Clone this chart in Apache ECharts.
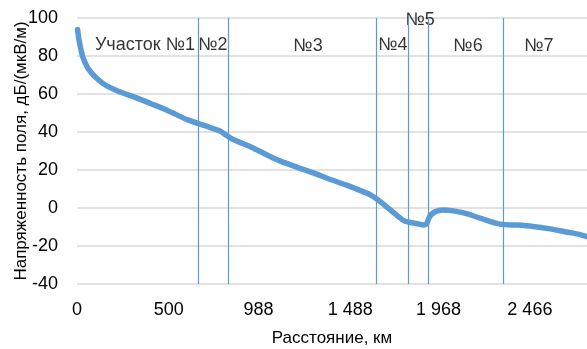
<!DOCTYPE html>
<html><head><meta charset="utf-8">
<script src="https://cdn.jsdelivr.net/npm/echarts@6/dist/echarts.min.js"></script>
<style>html,body{margin:0;padding:0;background:#fff}#c{width:587px;height:349px}</style>
</head><body><div id="c"></div>
<script>
const distanceKm = [3,10,20,30,44,60,80,110,150,200,250,305,400,490,600,700,779,810,851,950,1033,1105,1214,1286,1380,1468,1560,1600,1650,1700,1750,1786,1840,1890,1905,1920,1950,1990,2050,2122,2200,2303,2400,2483,2576,2657,2739,2777];
const fieldDb =    [94,89,84,80,76.5,73.5,71,68,65,62.5,60.5,58.6,55,51.5,46.5,43.2,40.5,38.5,36,32,28,24.8,20.9,18.5,15,12,8.5,6.8,3.5,-0.5,-4.5,-7,-8,-9,-8,-4.5,-2,-1,-1.5,-3,-5.5,-8.5,-9,-9.7,-11,-12.5,-14,-15];
const xTickValues = [0,500,988,1488,1968,2466];
const xTickLabels = ['0','500','988','1 488','1 968','2 466'];
const yTicks = [-40,-20,0,20,40,60,80,100];
const boundaryKm = [660,824,1632,1801,1913,2321];
const segNames = ['Участок №1','№2','№3','№4','№5','№6','№7'];
const segLabelKm = [370,740,1258,1720,1868,2129,2515];
const segLabelDb = [86,86,85,86,99,85,85];

const FONT = '"Liberation Sans",Arial,sans-serif';
const FS = 18;
const chart = echarts.init(document.getElementById('c'), null, {renderer:'canvas'});
chart.setOption({
  animation:false,
  grid:{left:77,right:0,top:18,bottom:65,containLabel:false,outerBoundsMode:'none'},
  xAxis:{
    type:'value',min:0,max:2777,
    name:'Расстояние, км',nameLocation:'middle',nameGap:46,nameMoveOverlap:false,
    nameTextStyle:{fontFamily:FONT,fontSize:17,color:'#000'},
    axisLine:{show:false},axisTick:{show:false},splitLine:{show:false},
    axisLabel:{customValues:xTickValues,fontFamily:FONT,fontSize:FS,color:'#000',margin:17,
      formatter:function(v){const i=xTickValues.indexOf(v);return i>=0?xTickLabels[i]:'';}}
  },
  yAxis:{
    type:'value',min:yTicks[0],max:yTicks[yTicks.length-1],interval:20,
    name:'Напряженность поля, дБ/(мкВ/м)',nameLocation:'middle',nameGap:47,nameMoveOverlap:false,
    nameTextStyle:{fontFamily:FONT,fontSize:17,color:'#000'},
    axisLine:{show:false},axisTick:{show:false},
    axisLabel:{fontFamily:FONT,fontSize:FS,color:'#000',margin:19},
    splitLine:{lineStyle:{color:'#d9d9d9',width:1.5}}
  },
  series:[
    {type:'line',data:distanceKm.map((d,i)=>[d,fieldDb[i]]),smooth:0.3,showSymbol:false,
     lineStyle:{color:'#5b9bd5',width:5.5,cap:'round',join:'round'},
     markLine:{silent:true,symbol:'none',label:{show:false},
       lineStyle:{color:'#5b9bd5',width:1.2,type:'solid'},
       data:boundaryKm.map(k=>({xAxis:k}))}},
    {type:'scatter',symbolSize:0,silent:true,
     data:segNames.map((n,i)=>({name:n,value:[segLabelKm[i],segLabelDb[i]]})),
     label:{show:true,position:'inside',formatter:'{b}',fontFamily:FONT,fontSize:FS,color:'#000'}}
  ]
});
</script></body></html>
